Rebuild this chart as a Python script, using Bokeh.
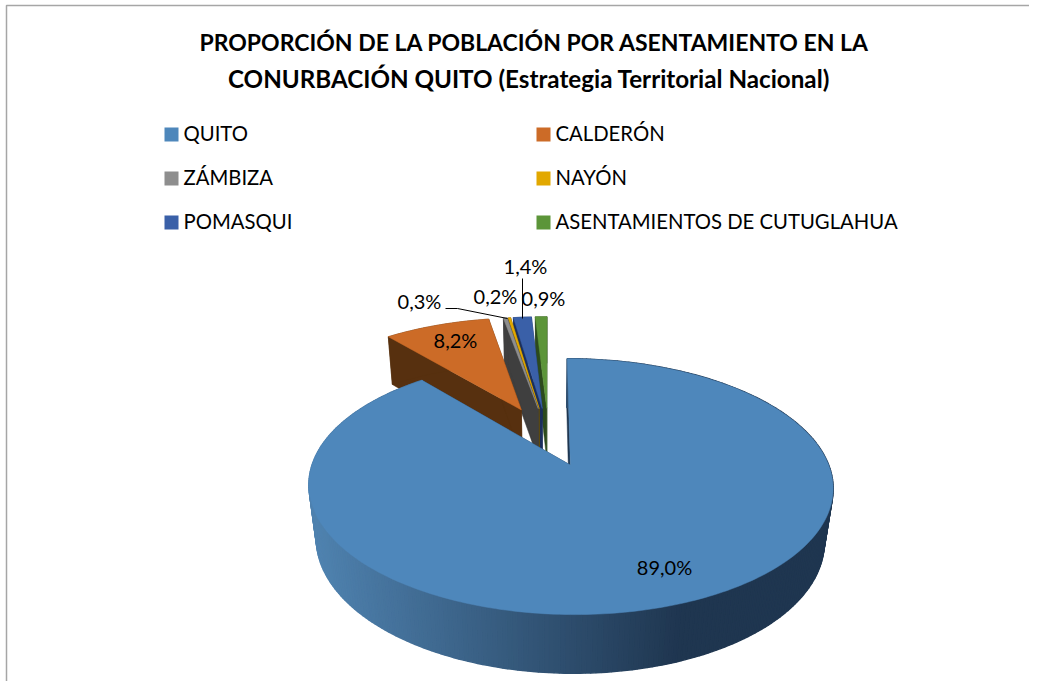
import numpy as np
from bokeh.plotting import figure
from bokeh.models import Range1d
from bokeh.core.properties import value
from bokeh.embed import file_html
from bokeh.resources import INLINE

title_lines = ["PROPORCIÓN DE LA POBLACIÓN POR ASENTAMIENTO EN LA",
               "CONURBACIÓN QUITO (Estrategia Territorial Nacional)"]
categories = ["QUITO", "CALDERÓN", "ZÁMBIZA", "NAYÓN", "POMASQUI", "ASENTAMIENTOS DE CUTUGLAHUA"]
shares = [89.0, 8.2, 0.3, 0.2, 1.4, 0.9]
top_colors = ["#4E87BB", "#CC6B27", "#8E8E8E", "#E2A800", "#3A60A8", "#5C9539"]
wall_colors = ["#1F3650", "#57300F", "#3F3F3F", "#6B5000", "#1B2F5C", "#2C4A1C"]
explosion = [0.25, 0.27, 0.26, 0.26, 0.26, 0.26]

FONT = value("Lato")
W, H = 1029, 681
X0, Y0, R, A, K, D, M = 548.0, 436.5, 248.5, 115.0, 0.162, 54.0, 0.03

p = figure(width=W, height=H, output_backend="svg", toolbar_location=None,
           x_range=Range1d(0, W), y_range=Range1d(H, 0),
           min_border=0, outline_line_color=None)
p.axis.visible = False
p.grid.visible = False


def project(u, v, z=0.0):
    w = 1 + K * v + M * z
    return X0 + R * u / w, Y0 - A * v / w + D * z / w


def slice_pts(a0, a1, e):
    b = (a0 + a1) / 2
    ou, ov = e * np.sin(b), e * np.cos(b)
    th = np.linspace(a0, a1, max(3, int(np.degrees(a1 - a0))))
    return ou, ov, th


def mix(c1, c2, t):
    a = [int(c1[i:i + 2], 16) for i in (1, 3, 5)]
    b = [int(c2[i:i + 2], 16) for i in (1, 3, 5)]
    return "#%02x%02x%02x" % tuple(int(round(a[i] + (b[i] - a[i]) * t)) for i in range(3))


# angles clockwise from twelve o'clock, from the shares
edges = np.radians(np.concatenate([[0], np.cumsum(shares)]) / sum(shares) * 360)

for i in [5, 4, 3, 2, 1, 0]:
    a0, a1 = edges[i], edges[i + 1]
    ou, ov, th = slice_pts(a0, a1, explosion[i])
    # side walls
    for a in (a0, a1):
        xs, ys = [], []
        for (u, v, z) in [(ou, ov, 0), (ou + np.sin(a), ov + np.cos(a), 0),
                          (ou + np.sin(a), ov + np.cos(a), 1), (ou, ov, 1)]:
            x, y = project(u, v, z)
            xs.append(x); ys.append(y)
        p.patch(xs, ys, fill_color=wall_colors[i], line_color=wall_colors[i], line_width=0.5)
    # outer rim
    us, vs = ou + np.sin(th), ov + np.cos(th)
    xt, yt = project(us, vs, 0)
    xb, yb = project(us, vs, 1)
    if i == 0:
        px, py, cols = [], [], []
        for j in range(len(th) - 1):
            px.append([xt[j], xt[j + 1], xb[j + 1], xb[j]])
            py.append([yt[j], yt[j + 1], yb[j + 1], yb[j]])
            t = min(1.0, max(0.0, ((xt[j] + xt[j + 1]) / 2 - 313) / (680 - 313)))
            cols.append(mix("#4F82AF", "#1F3650", t))
        p.patches(px, py, fill_color=cols, line_color=cols, line_width=1.5)
    else:
        p.patch(list(xt) + list(xb[::-1]), list(yt) + list(yb[::-1]),
                fill_color=wall_colors[i], line_color=wall_colors[i], line_width=0.5)
    # top face
    cx, cy = project(ou, ov, 0)
    p.patch([cx] + list(xt), [cy] + list(yt), fill_color=top_colors[i],
            line_color=top_colors[i], line_width=0.5)

# chart frame
p.line([W, 6, 6], [5, 5, H], line_color="#A6A6A6", line_width=1.5)

# title
p.text([534], [41], text=title_lines[:1], text_font=FONT, text_font_style="bold",
       text_font_size="23px", text_align="center", text_baseline="middle", text_color="#000000")
p.text([528.5], [78], text=title_lines[1:], text_font=FONT, text_font_style="bold",
       text_font_size="24.2px", text_align="center", text_baseline="middle", text_color="#000000")

# legend
leg_x = [164, 536, 164, 536, 164, 536]
leg_y = [134, 134, 178, 178, 222, 222]
p.rect([x + 7 for x in leg_x], leg_y, width=14, height=14, fill_color=top_colors, line_color=None)
p.text([x + 19 for x in leg_x], [y - 2 for y in leg_y], text=categories, text_font=FONT,
       text_font_size="20.3px", text_align="left", text_baseline="middle", text_color="#000000")

# data labels and leaders
lab_x = [664, 455, 419, 495, 525, 543]
lab_y = [566, 339, 300, 295, 265, 297]
labels = [f"{s:.1f}%".replace(".", ",") for s in shares]
p.line([445, 457, 507], [308, 308, 318], line_color="#000000", line_width=1)
p.line([522, 522], [278, 318], line_color="#000000", line_width=1)
p.text(lab_x, lab_y, text=labels, text_font=FONT, text_font_size="20px",
       text_align="center", text_baseline="middle", text_color="#000000")

open("out.html", "w").write(file_html(p, INLINE))
